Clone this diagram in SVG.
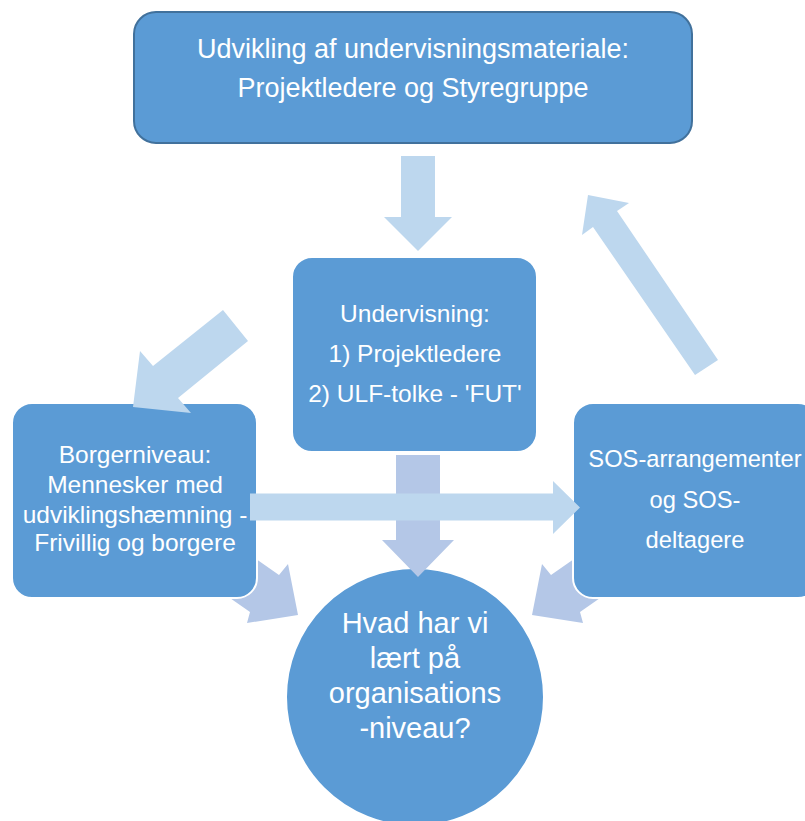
<svg xmlns="http://www.w3.org/2000/svg" width="805" height="821" viewBox="0 0 805 821">
<style>
.node{fill:#5B9BD5;}
.top{stroke:#41719C;stroke-width:2;}
.white{stroke:#FFFFFF;stroke-width:2;}
.a1{fill:#BDD7EE;}
.a2{fill:#B4C7E7;}
text{font-family:"Liberation Sans",Arial,sans-serif;fill:#FFFFFF;text-anchor:middle;}
.t27{font-size:27px;}
.t24{font-size:24.5px;}
.t23{font-size:23.7px;}
.t29{font-size:29px;}
</style>
<rect width="805" height="821" fill="#FFFFFF"/>
<g id="connectors-back" class="connectors">
<polygon class="a2" points="246,552 279,575 288,564 298,615 247,623 250,612 217,589"/>
<polygon class="a2" points="584,552 551,575 542,564 532,615 583,623 580,612 613,589"/>
</g>
<g id="node-circle">
<circle class="node white" cx="415" cy="697" r="129"/>
<text class="t29" x="415" y="633">Hvad har vi</text>
<text class="t29" x="415" y="668">lært på</text>
<text class="t29" x="415" y="703">organisations</text>
<text class="t29" x="415" y="738">-niveau?</text>
</g>
<g id="node-borger">
<rect class="node white" x="12" y="403" width="245" height="195" rx="20"/>
<text class="t24" x="135" y="463">Borgerniveau:</text>
<text class="t24" x="135" y="493">Mennesker med</text>
<text class="t24" x="135" y="523">udviklingshæmning -</text>
<text class="t24" x="135" y="551">Frivillig og borgere</text>
</g>
<g id="node-sos">
<rect class="node white" x="573" y="403" width="245" height="195" rx="20"/>
<text class="t23" x="695" y="467">SOS-arrangementer</text>
<text class="t23" x="695" y="508">og SOS-</text>
<text class="t23" x="695" y="548">deltagere</text>
</g>
<g id="node-undervisning">
<rect class="node white" x="292" y="257" width="245" height="195" rx="20"/>
<text class="t24" x="415" y="322">Undervisning:</text>
<text class="t24" x="415" y="362">1) Projektledere</text>
<text class="t24" x="415" y="402">2) ULF-tolke - 'FUT'</text>
</g>
<g id="node-udvikling">
<rect class="node top" x="134" y="12" width="558" height="131" rx="22"/>
<text class="t27" x="413" y="58">Udvikling af undervisningsmateriale:</text>
<text class="t27" x="413" y="97">Projektledere og Styregruppe</text>
</g>
<g id="connectors" class="connectors">
<polygon class="a2" points="396,455 440,455 440,540 454,540 418,577 382,540 396,540"/>
<polygon class="a1" points="250,493.5 553,493.5 553,481 580,507.5 553,534 553,520.5 250,520.5"/>
<polygon class="a1" points="401,156 435,156 435,217 452,217 418,251 384,217 401,217"/>
<polygon class="a1" points="248,341 178,398 191,413 133,407 140,351 153,366 223,310"/>
<polygon class="a1" points="695,375 593,227 582,235 588,195 629,203 617,211 718,360"/>
</g>
</svg>
